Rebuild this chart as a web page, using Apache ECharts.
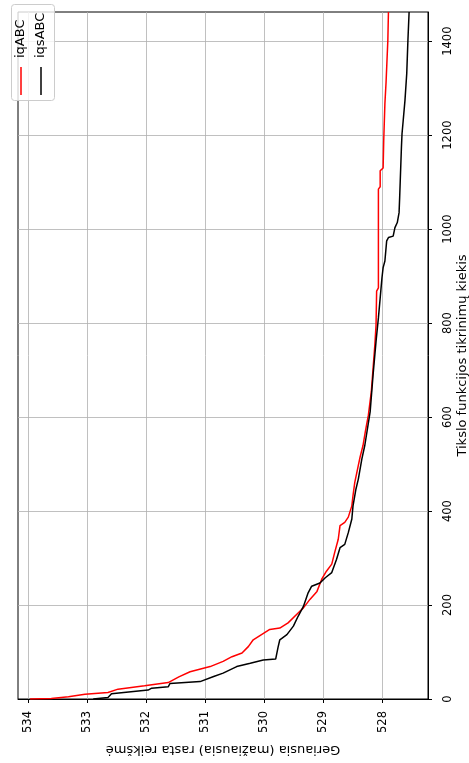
<!DOCTYPE html>
<html><head><meta charset="utf-8">
<script src="https://cdn.jsdelivr.net/npm/echarts@6/dist/echarts.min.js"></script>
<style>html,body{margin:0;padding:0;background:#fff}#c{width:469px;height:763px}</style>
</head><body><div id="c"></div>
<script>
const seriesNames = ['iqABC', 'iqsABC'];
const seriesColors = ['#ff0000', '#000000'];

const iqABCEvals = [0,1,5,10,14,21,28,35,47,58,69,80,90,98,112,126,137,148,151,162,183,194,212,229,255,272,287,312,340,369,376,387,411,433,461,497,515,540,570,604,654,704,754,796,868,875,1085,1090,1124,1130,1188,1267,1313,1317,1402,1462];
const iqABCValues = [533.97,533.61,533.32,533.04,532.65,532.48,532.03,531.63,531.45,531.26,530.92,530.70,530.55,530.38,530.27,530.19,530.05,529.91,529.74,529.60,529.43,529.34,529.23,529.11,529.03,528.95,528.86,528.81,528.75,528.72,528.64,528.58,528.52,528.50,528.47,528.41,528.38,528.33,528.29,528.24,528.19,528.16,528.13,528.11,528.10,528.07,528.07,528.04,528.04,527.99,527.98,527.96,527.94,527.92,527.91,527.90];

const iqsABCEvals = [0,3,11,19,23,26,33,37,48,55,69,76,83,85,110,126,137,155,176,197,226,240,247,258,269,297,322,329,354,383,411,447,468,511,540,611,690,761,811,853,896,918,932,975,982,985,1003,1014,1035,1067,1103,1174,1203,1231,1274,1331,1402,1462];
const iqsABCValues = [532.90,532.65,532.59,531.97,531.91,531.63,531.60,531.09,530.86,530.70,530.47,530.24,530.02,529.81,529.77,529.74,529.62,529.51,529.43,529.34,529.26,529.20,529.06,528.97,528.86,528.78,528.72,528.64,528.58,528.52,528.50,528.45,528.41,528.35,528.30,528.21,528.16,528.11,528.07,528.04,528.01,527.99,527.96,527.93,527.90,527.82,527.79,527.75,527.72,527.71,527.70,527.68,527.67,527.65,527.62,527.59,527.57,527.55];

const valueTicks = [528, 529, 530, 531, 532, 533, 534];
const evalTicks = [0, 200, 400, 600, 800, 1000, 1200, 1400];
const valueAxisTitle = 'Geriausia (mažiausia) rasta reikšmė';
const evalAxisTitle = 'Tikslo funkcijos tikrinimų kiekis';

const FONT = 'DejaVu Sans';
const toPairs = (vals, evals) => vals.map((v, i) => [v, evals[i]]);

const chart = echarts.init(document.getElementById('c'), null, {renderer: 'canvas'});
chart.setOption({
  animation: false,
  backgroundColor: '#ffffff',
  grid: {left: 18, right: 41, top: 12, bottom: 64, show: true, borderColor: '#000', borderWidth: 1,
         backgroundColor: 'transparent', containLabel: false, outerBoundsMode: 'none'},
  xAxis: {
    type: 'value', inverse: true, min: 527.23, max: 534.174, position: 'bottom',
    axisLine: {show: true, onZero: false, lineStyle: {color: '#000', width: 1}},
    axisTick: {show: true, length: 4, customValues: valueTicks, lineStyle: {color: '#000', width: 1}},
    axisLabel: {customValues: valueTicks, rotate: 90, margin: 12, color: '#000', fontSize: 11.5, fontFamily: FONT,
                formatter: v => String(v)},
    splitLine: {show: true, lineStyle: {color: '#b0b0b0', width: 0.8}},
    name: valueAxisTitle, nameLocation: 'middle', nameGap: 44, nameRotate: 180,
    nameTextStyle: {color: '#000', fontSize: 13, fontFamily: FONT}
  },
  yAxis: {
    type: 'value', min: 0, max: 1462, position: 'right',
    axisLine: {show: true, onZero: false, lineStyle: {color: '#000', width: 1}},
    axisTick: {show: true, length: 4, customValues: evalTicks, lineStyle: {color: '#000', width: 1}},
    axisLabel: {customValues: evalTicks, rotate: 90, margin: 14, color: '#000', fontSize: 11.5, fontFamily: FONT,
                formatter: v => String(v)},
    splitLine: {show: true, lineStyle: {color: '#b0b0b0', width: 0.8}},
    name: evalAxisTitle, nameLocation: 'middle', nameGap: 28, nameRotate: 90, nameMoveOverlap: false,
    nameTextStyle: {color: '#000', fontSize: 13, fontFamily: FONT}
  },
  series: [
    {name: seriesNames[0], type: 'line', showSymbol: false, symbol: 'none',
     lineStyle: {color: seriesColors[0], width: 1.5}, itemStyle: {color: seriesColors[0]},
     data: toPairs(iqABCValues, iqABCEvals)},
    {name: seriesNames[1], type: 'line', showSymbol: false, symbol: 'none',
     lineStyle: {color: seriesColors[1], width: 1.5}, itemStyle: {color: seriesColors[1]},
     data: toPairs(iqsABCValues, iqsABCEvals)}
  ],
  graphic: [
    {type: 'rect', left: 11, top: 4, shape: {width: 43, height: 96, r: 3}, style: {fill: 'rgba(255,255,255,0.8)', stroke: '#cccccc', lineWidth: 1}, z: 100},
    {type: 'line', shape: {x1: 21, y1: 95, x2: 21, y2: 67}, style: {stroke: seriesColors[0], lineWidth: 1.5}, z: 101},
    {type: 'line', shape: {x1: 41, y1: 95, x2: 41, y2: 67}, style: {stroke: seriesColors[1], lineWidth: 1.5}, z: 101},
    {type: 'text', x: 21, y: 58, rotation: Math.PI / 2, style: {text: seriesNames[0], x: 0, y: 0, align: 'left', verticalAlign: 'middle', fill: '#000', font: '13px "DejaVu Sans"'}, z: 101},
    {type: 'text', x: 41, y: 58, rotation: Math.PI / 2, style: {text: seriesNames[1], x: 0, y: 0, align: 'left', verticalAlign: 'middle', fill: '#000', font: '13px "DejaVu Sans"'}, z: 101}
  ]
});
</script></body></html>
